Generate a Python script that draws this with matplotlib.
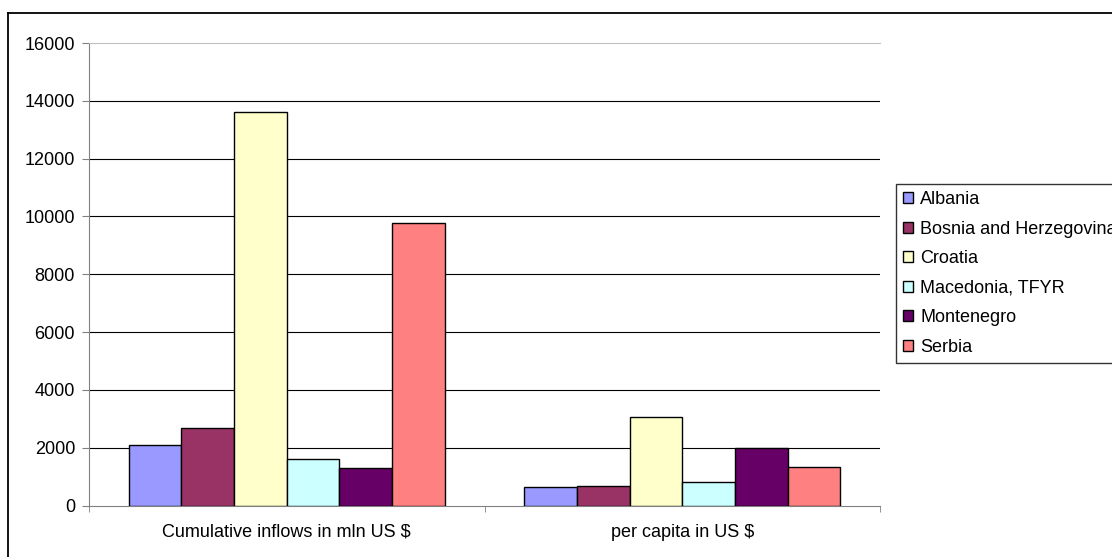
import matplotlib
matplotlib.use("Agg")
import matplotlib.pyplot as plt
import numpy as np
from matplotlib.lines import Line2D

plt.rcParams['font.family'] = ['Liberation Sans', 'DejaVu Sans']

# Data
categories = ['Cumulative inflows in mln US $', 'per capita in US $']
countries = ['Albania', 'Bosnia and Herzegovina', 'Croatia',
             'Macedonia, TFYR', 'Montenegro', 'Serbia']
albania = [2080, 640]
bosnia = [2680, 680]
croatia = [13600, 3060]
macedonia = [1610, 820]
montenegro = [1310, 1990]
serbia = [9790, 1320]
colors = ['#9999FF', '#993366', '#FFFFCC', '#CCFFFF', '#660066', '#FF8080']
y_ticks = [0, 2000, 4000, 6000, 8000, 10000, 12000, 14000, 16000]

series = [albania, bosnia, croatia, macedonia, montenegro, serbia]

W, H = 1112, 557
fig = plt.figure(figsize=(W / 100, H / 100), dpi=100)
ax = fig.add_axes([89 / W, 1 - 505.5 / H, (880 - 89) / W, (505.5 - 43) / H])

x = np.arange(len(categories))
n = len(series)
bw = 0.8 / n
for i, (vals, name, c) in enumerate(zip(series, countries, colors)):
    ax.bar(x - 0.4 + bw * (i + 0.5), vals, width=bw, color=c,
           edgecolor='black', linewidth=1, label=name, zorder=3)

ax.set_xlim(-0.5, 1.5)
ax.set_ylim(0, 16000)
ax.set_yticks(y_ticks)
ax.set_yticklabels([str(t) for t in y_ticks], fontsize=13)
ax.set_xticks(x)
ax.set_xticklabels(categories, fontsize=13)
ax.set_xticks([-0.5, 0.5, 1.5], minor=True)
ax.tick_params(axis='x', which='major', length=0, pad=13)
ax.tick_params(axis='x', which='minor', length=4, color='#808080', direction='out')
ax.tick_params(axis='y', length=5, color='#808080', direction='out', pad=5)

for t in y_ticks[1:-1]:
    ax.axhline(t, color='black', linewidth=0.8, zorder=1)

ax.spines['right'].set_visible(False)
ax.spines['top'].set_color('#C0C0C0')
ax.spines['left'].set_color('#808080')
ax.spines['bottom'].set_color('#808080')

# legend runs past the right edge, as in the original chart
leg = fig.legend(loc='upper left', bbox_to_anchor=(896 / W, 1 - 184 / H),
                 fontsize=13, frameon=True, fancybox=False, shadow=False,
                 handlelength=0.55, handleheight=0.55, handletextpad=0.4,
                 labelspacing=0.69, borderpad=0.4, borderaxespad=0)
leg.get_frame().set_edgecolor('black')
leg.get_frame().set_linewidth(1)

# outer chart border
fig.add_artist(Line2D([8 / W, 8 / W], [0, 1 - 13 / H], color='black', lw=1.3))
fig.add_artist(Line2D([8 / W, 1], [1 - 13 / H, 1 - 13 / H], color='black', lw=1.3))

fig.savefig('out.png', dpi=100)
